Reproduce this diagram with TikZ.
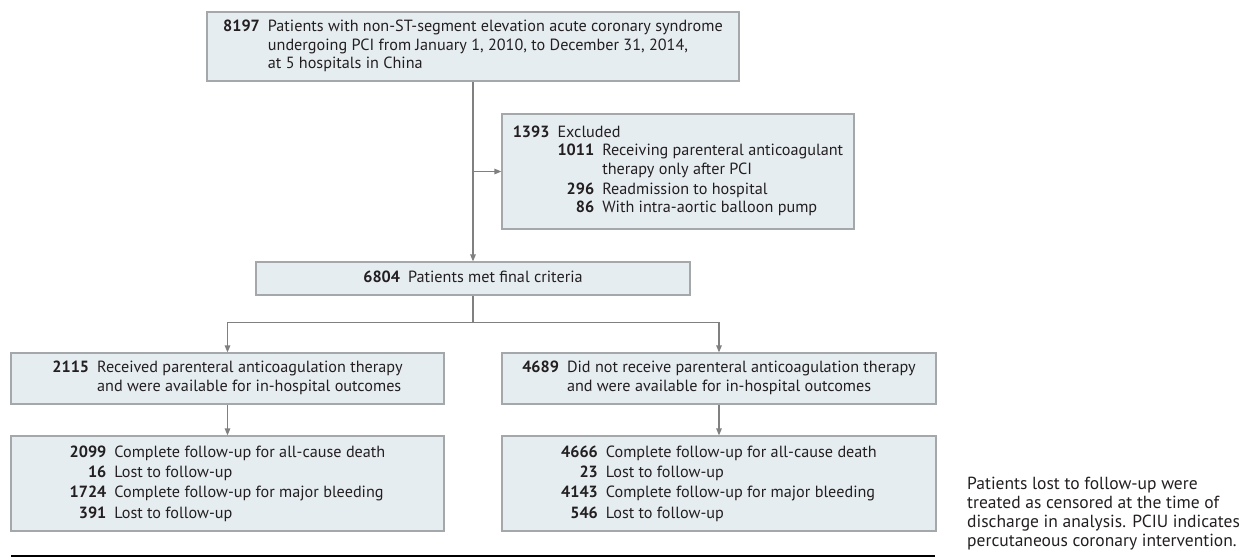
\documentclass[tikz,border=0pt]{standalone}
\usepackage{fontspec}
\setmainfont{PT Sans}
\usetikzlibrary{arrows.meta}
\definecolor{boxfill}{HTML}{E6EDF1}
\definecolor{boxline}{HTML}{A5A8AB}
\definecolor{arrline}{HTML}{808080}
\definecolor{txt}{HTML}{231F20}
\tikzset{
  flowbox/.style={draw=boxline, fill=boxfill, line width=1.2pt, rectangle, inner sep=0pt, align=center, text=txt},
  conn/.style={draw=arrline, line width=1.2pt},
  arr/.style={conn, -{Triangle[length=7pt,width=5.5pt]}},
}
\newcommand{\numtab}[1]{\begin{tabular}{@{}r@{\hspace{8pt}}l@{}}#1\end{tabular}}
\begin{document}
\begin{tikzpicture}[x=1pt,y=-1pt, font=\fontsize{16.2}{18.5}\selectfont]
\useasboundingbox (0,0) rectangle (1247,557);
\renewcommand{\arraystretch}{1.0}
\node[flowbox, minimum width=532pt, minimum height=69pt] (top) at (473,46.5)
  {\numtab{\textbf{8197} & Patients with non-ST-segment elevation acute coronary syndrome\\
  & undergoing PCI from January 1, 2010, to December 31, 2014,\\
  & at 5 hospitals in China}};
\node[flowbox, minimum width=352pt, minimum height=115pt] (excl) at (678,171.5)
  {\begin{tabular}{@{}r@{\hspace{8pt}}r@{\hspace{8pt}}l@{}}
  \textbf{1393} & \multicolumn{2}{@{}l@{}}{Excluded}\\
  & \textbf{1011} & Receiving parenteral anticoagulant\\
  & & therapy only after PCI\\[1.5pt]
  & \textbf{296} & Readmission to hospital\\
  & \textbf{86} & With intra-aortic balloon pump
  \end{tabular}};
\node[flowbox, minimum width=434pt, minimum height=33pt] (final) at (473,278.5)
  {\numtab{\textbf{6804} & Patients met final criteria}};
\node[flowbox, minimum width=433pt, minimum height=51pt] (L1) at (227.5,378.5)
  {\numtab{\textbf{2115} & Received parenteral anticoagulation therapy\\
  & and were available for in-hospital outcomes}};
\node[flowbox, minimum width=434pt, minimum height=51pt] (R1) at (719,378.5)
  {\numtab{\textbf{4689} & Did not receive parenteral anticoagulation therapy\\
  & and were available for in-hospital outcomes}};
\node[flowbox, minimum width=433pt, minimum height=95pt] (L2) at (227.5,483.5)
  {\renewcommand{\arraystretch}{1.1}\numtab{\textbf{2099} & Complete follow-up for all-cause death\\
  \textbf{16} & Lost to follow-up\\
  \textbf{1724} & Complete follow-up for major bleeding\\
  \textbf{391} & Lost to follow-up}};
\node[flowbox, minimum width=434pt, minimum height=95pt] (R2) at (719,483.5)
  {\renewcommand{\arraystretch}{1.1}\numtab{\textbf{4666} & Complete follow-up for all-cause death\\
  \textbf{23} & Lost to follow-up\\
  \textbf{4143} & Complete follow-up for major bleeding\\
  \textbf{546} & Lost to follow-up}};
\draw[arr] (top.south) -- (final.north);
\draw[arr] (top.south |- excl.west) -- (excl.west);
\draw[conn] (final.south) -- ++(0,27) coordinate (br);
\draw[arr] (br) -| (L1.north);
\draw[arr] (br) -| (R1.north);
\draw[arr] (L1.south) -- (L2.north);
\draw[arr] (R1.south) -- (R2.north);
\coordinate (rl) at (11,556);
\coordinate (rr) at (935,556);
\draw[black, line width=1.6pt] (rl) -- (rr);
\node[anchor=north west, align=left, inner sep=0pt, text=txt, font=\fontsize{17.5}{19}\selectfont] (cap) at (967,477)
  {Patients lost to follow-up were\\ treated as censored at the time of\\ discharge in analysis. PCIU indicates\\ percutaneous coronary intervention.};
\end{tikzpicture}
\end{document}
